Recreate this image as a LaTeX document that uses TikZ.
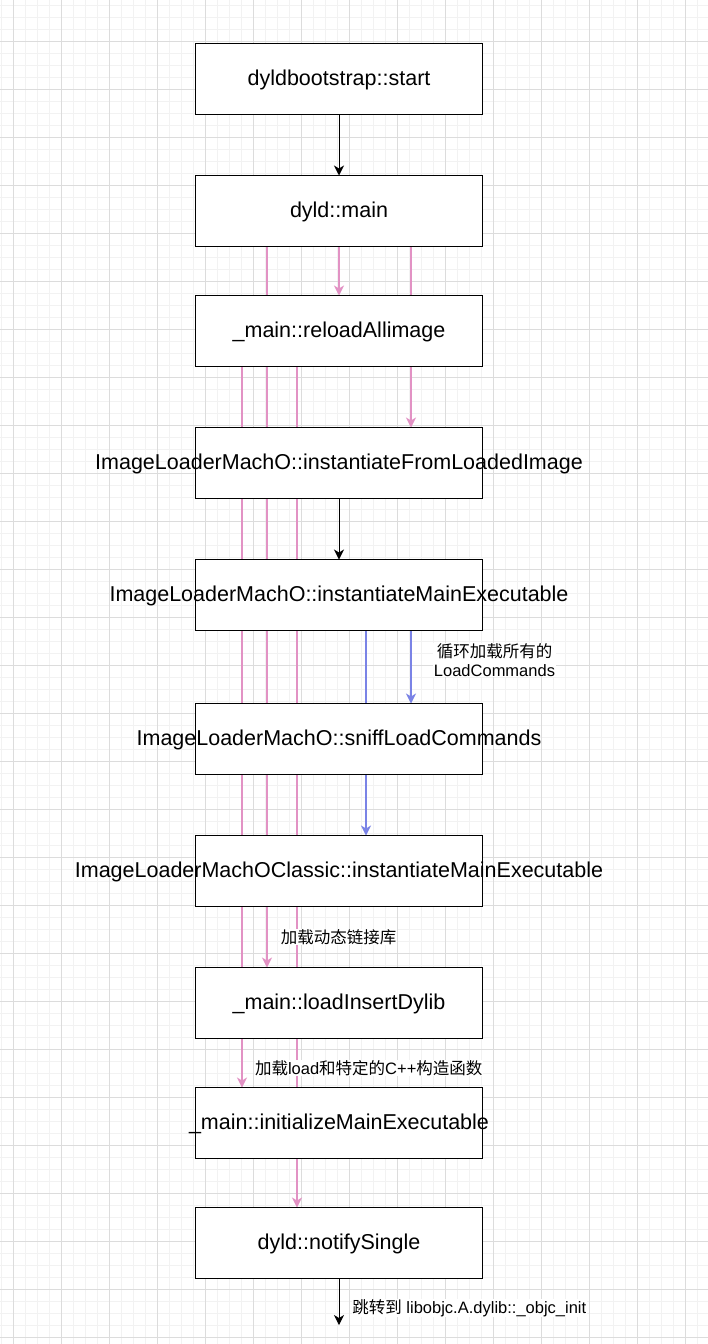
\documentclass[tikz,border=0pt]{standalone}
\usepackage{fontspec}
\setmainfont{Liberation Sans}
\newfontfamily\cjk{Noto Sans CJK SC}
\usetikzlibrary{arrows.meta}
\definecolor{gridminor}{HTML}{F2F2F2}
\definecolor{gridmajor}{HTML}{DCDCDC}
\definecolor{edgepink}{HTML}{E292C4}
\definecolor{edgeblue}{HTML}{7A83E6}
\pgfdeclarelayer{gridlayer}
\pgfdeclarelayer{edgelayer}
\pgfsetlayers{gridlayer,edgelayer,main}
\begin{document}
\begin{tikzpicture}[x=1pt,y=-1pt,
  box/.style={draw=black, line width=1.2pt, fill=white, minimum width=287pt, minimum height=71pt, inner sep=0pt, outer sep=0pt},
  boxtext/.style={font=\fontsize{21.5}{25}\selectfont, text height=14pt, text depth=0.6pt, inner sep=0pt},
  lbl/.style={font=\fontsize{16.5}{18.5}\selectfont, fill=white, inner sep=0.5pt},
  tip/.style={-{Stealth[length=10pt,width=10pt,inset=3pt]}},
  blk/.style={draw=black, line width=1pt, tip},
  pnk/.style={draw=edgepink, line width=1.1pt, tip},
  blu/.style={draw=edgeblue, line width=1.1pt, tip}]
\useasboundingbox (0,0) rectangle (708,1344);
\begin{pgfonlayer}{gridlayer}
  \fill[white] (0,0) rectangle (708,1344);
  \foreach \x in {1,13,...,708} \draw[gridminor, line width=1pt] (\x,0) -- (\x,1344);
  \foreach \y in {5,17,...,1344} \draw[gridminor, line width=1pt] (0,\y) -- (708,\y);
  \foreach \x in {13,61,...,708} \draw[gridmajor, line width=1pt] (\x,0) -- (\x,1344);
  \foreach \y in {41,89,...,1344} \draw[gridmajor, line width=1pt] (0,\y) -- (708,\y);
\end{pgfonlayer}

% boxes
\node[box] (b1) at (339,79) {};
\node[box] (b2) at (339,211) {};
\node[box] (b3) at (339,331) {};
\node[box] (b4) at (339,463) {};
\node[box] (b5) at (339,595) {};
\node[box] (b6) at (339,739) {};
\node[box] (b7) at (339,871) {};
\node[box] (b8) at (339,1003) {};
\node[box] (b9) at (339,1123) {};
\node[box] (b10) at (339,1243) {};
\coordinate (end) at (339,1325);

\node[boxtext] (t1) at (b1) {dyldbootstrap::start};
\node[boxtext] (t2) at (b2) {dyld::main};
\node[boxtext] (t3) at (b3) {\_main::reloadAllimage};
\node[boxtext] (t4) at (b4) {ImageLoaderMachO::instantiateFromLoadedImage};
\node[boxtext] (t5) at (b5) {ImageLoaderMachO::instantiateMainExecutable};
\node[boxtext] (t6) at (b6) {ImageLoaderMachO::sniffLoadCommands};
\node[boxtext] (t7) at (b7) {ImageLoaderMachOClassic::instantiateMainExecutable};
\node[boxtext] (t8) at (b8) {\_main::loadInsertDylib};
\node[boxtext] (t9) at (b9) {\_main::initializeMainExecutable};
\node[boxtext] (t10) at (b10) {dyld::notifySingle};

% edges
\begin{pgfonlayer}{edgelayer}
  \draw[blk] (b1.south) -- (b2.north);
  \draw[pnk] (b2.south) -- (b3.north);
  \draw[pnk] ([xshift=72pt]b2.south) -- ([xshift=72pt]b4.north);
  \draw[pnk] ([xshift=-72pt]b2.south) -- ([xshift=-72pt]b8.north);
  \draw[pnk] ([xshift=-97pt]b3.south) -- ([xshift=-97pt]b9.north);
  \draw[pnk] ([xshift=-42pt]b3.south) -- ([xshift=-42pt]b10.north);
  \draw[blk] (b4.south) -- (b5.north);
  \draw[blu] ([xshift=72pt]b5.south) -- ([xshift=72pt]b6.north);
  \draw[blu] ([xshift=27pt]b5.south) -- ([xshift=27pt]b7.north);
  \draw[blk] (b10.south) -- (end);
\end{pgfonlayer}

% labels
\node[lbl, align=center] (l1) at (494.5,660) {{\cjk 循环加载所有的}\\LoadCommands};
\node[lbl] (l2) at (338.5,937) {\cjk 加载动态链接库};
\node[lbl] (l3) at (368.7,1068) {{\cjk 加载}load{\cjk 和特定的}C++{\cjk 构造函数}};
\node[lbl, anchor=west] (l4) at (351.7,1308) {{\cjk 跳转到} libobjc.A.dylib::\_objc\_init};
\end{tikzpicture}
\end{document}
